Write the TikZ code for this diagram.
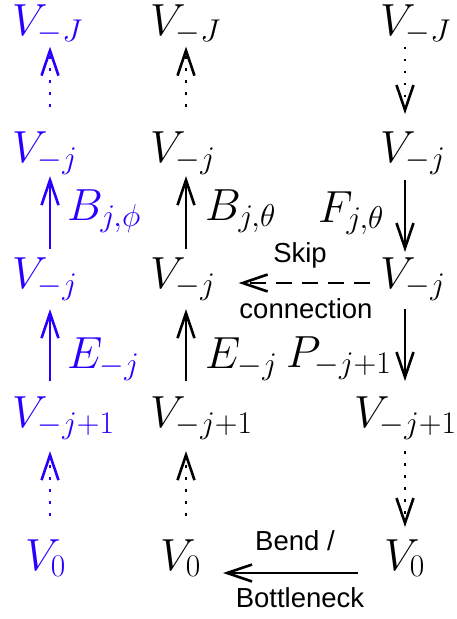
\RequirePackage{fix-cm}
\documentclass[tikz,border=0pt]{standalone}
\usepackage{fontspec}
\setsansfont{Liberation Sans}
\usetikzlibrary{arrows.meta}
\definecolor{vblue}{RGB}{40,0,255}
\begin{document}
\begin{tikzpicture}[x=1pt,y=-1pt,
  mth/.style={inner sep=0pt,anchor=base west,font=\fontsize{45}{50}\selectfont},
  lab/.style={inner sep=0pt,anchor=base,font=\sffamily\fontsize{27.5}{30}\selectfont},
  tip/.style={-{Straight Barb[length=25pt,width=17pt,line width=2.6pt]}},
  solidarrow/.style={tip,line width=2.6pt},
  dotarrow/.style={tip,line width=2.6pt,dash pattern=on 2.6pt off 9.4pt},
  skiparrow/.style={tip,line width=2.6pt,dash pattern=on 16pt off 10pt},
  bl/.style={color=vblue}]
\useasboundingbox (0,0) rectangle (456,619);
% column x coordinates for arrows
\coordinate (ax1) at (50,0);
\coordinate (ax2) at (186,0);
\coordinate (ax3) at (405,0);
% left blue column
\node[mth,bl] (b1) at (12,35) {$V_{-J}$};
\node[mth,bl] (b2) at (12,162) {$V_{-j}$};
\node[mth,bl] (b3) at (12,288) {$V_{-j}$};
\node[mth,bl] (b4) at (12,427) {$V_{-j+1}$};
\node[mth,bl] (b5) at (25,570) {$V_0$};
% middle column
\node[mth] (m1) at (150,35) {$V_{-J}$};
\node[mth] (m2) at (150,162) {$V_{-j}$};
\node[mth] (m3) at (150,288) {$V_{-j}$};
\node[mth] (m4) at (150,427) {$V_{-j+1}$};
\node[mth] (m5) at (160,570) {$V_0$};
% right column
\node[mth] (r1) at (380,35) {$V_{-J}$};
\node[mth] (r2) at (380,162) {$V_{-j}$};
\node[mth] (r3) at (380,288) {$V_{-j}$};
\node[mth] (r4) at (354,427) {$V_{-j+1}$};
\node[mth] (r5) at (384,570) {$V_0$};
% edge labels
\node[mth,bl] (lb1) at (67,220) {$B_{j,\phi}$};
\node[mth] (lb2) at (205,220) {$B_{j,\theta}$};
\node[mth] (lf) at (318,222) {$F_{j,\theta}$};
\node[mth,bl] (le1) at (67,368) {$E_{-j}$};
\node[mth] (le2) at (205,368) {$E_{-j}$};
\node[mth] (lp) at (286,367) {$P_{-j+1}$};
\node[lab] (skip) at (300,262) {Skip};
\node[lab] (conn) at (306,318) {connection};
\node[lab] (bend) at (295,550) {Bend /};
\node[lab] (bott) at (300,607) {Bottleneck};
% left arrows
\begin{scope}[vblue]
\draw[dotarrow,shorten <=24pt,shorten >=2pt] (b2.north -| ax1) -- (b1.south -| ax1);
\draw[solidarrow,shorten <=8pt,shorten >=1pt] (b3.north -| ax1) -- (b2.south -| ax1);
\draw[solidarrow,shorten <=15pt,shorten >=8pt] (b4.north -| ax1) -- (b3.south -| ax1);
\draw[dotarrow,shorten <=23pt,shorten >=11pt] (b5.north -| ax1) -- (b4.south -| ax1);
\end{scope}
% middle arrows
\draw[dotarrow,shorten <=24pt,shorten >=2pt] (m2.north -| ax2) -- (m1.south -| ax2);
\draw[solidarrow,shorten <=8pt,shorten >=1pt] (m3.north -| ax2) -- (m2.south -| ax2);
\draw[solidarrow,shorten <=15pt,shorten >=8pt] (m4.north -| ax2) -- (m3.south -| ax2);
\draw[dotarrow,shorten <=23pt,shorten >=11pt] (m5.north -| ax2) -- (m4.south -| ax2);
% right arrows
\draw[dotarrow,shorten <=2pt,shorten >=17pt] (r1.south -| ax3) -- (r2.north -| ax3);
\draw[solidarrow,shorten <=5pt,shorten >=5pt] (r2.south -| ax3) -- (r3.north -| ax3);
\draw[solidarrow,shorten <=8pt,shorten >=15pt] (r3.south -| ax3) -- (r4.north -| ax3);
\draw[dotarrow,shorten <=11pt,shorten >=12pt] (r4.south -| ax3) -- (r5.north -| ax3);
% horizontal arrows
\draw[skiparrow] ([shift={(-10,-5)}]r3.base west) -- ([shift={(23,-5)}]m3.base east);
\draw[solidarrow] ([shift={(-26,3)}]r5.base west) -- ([shift={(22,3)}]m5.base east);
\end{tikzpicture}
\end{document}
